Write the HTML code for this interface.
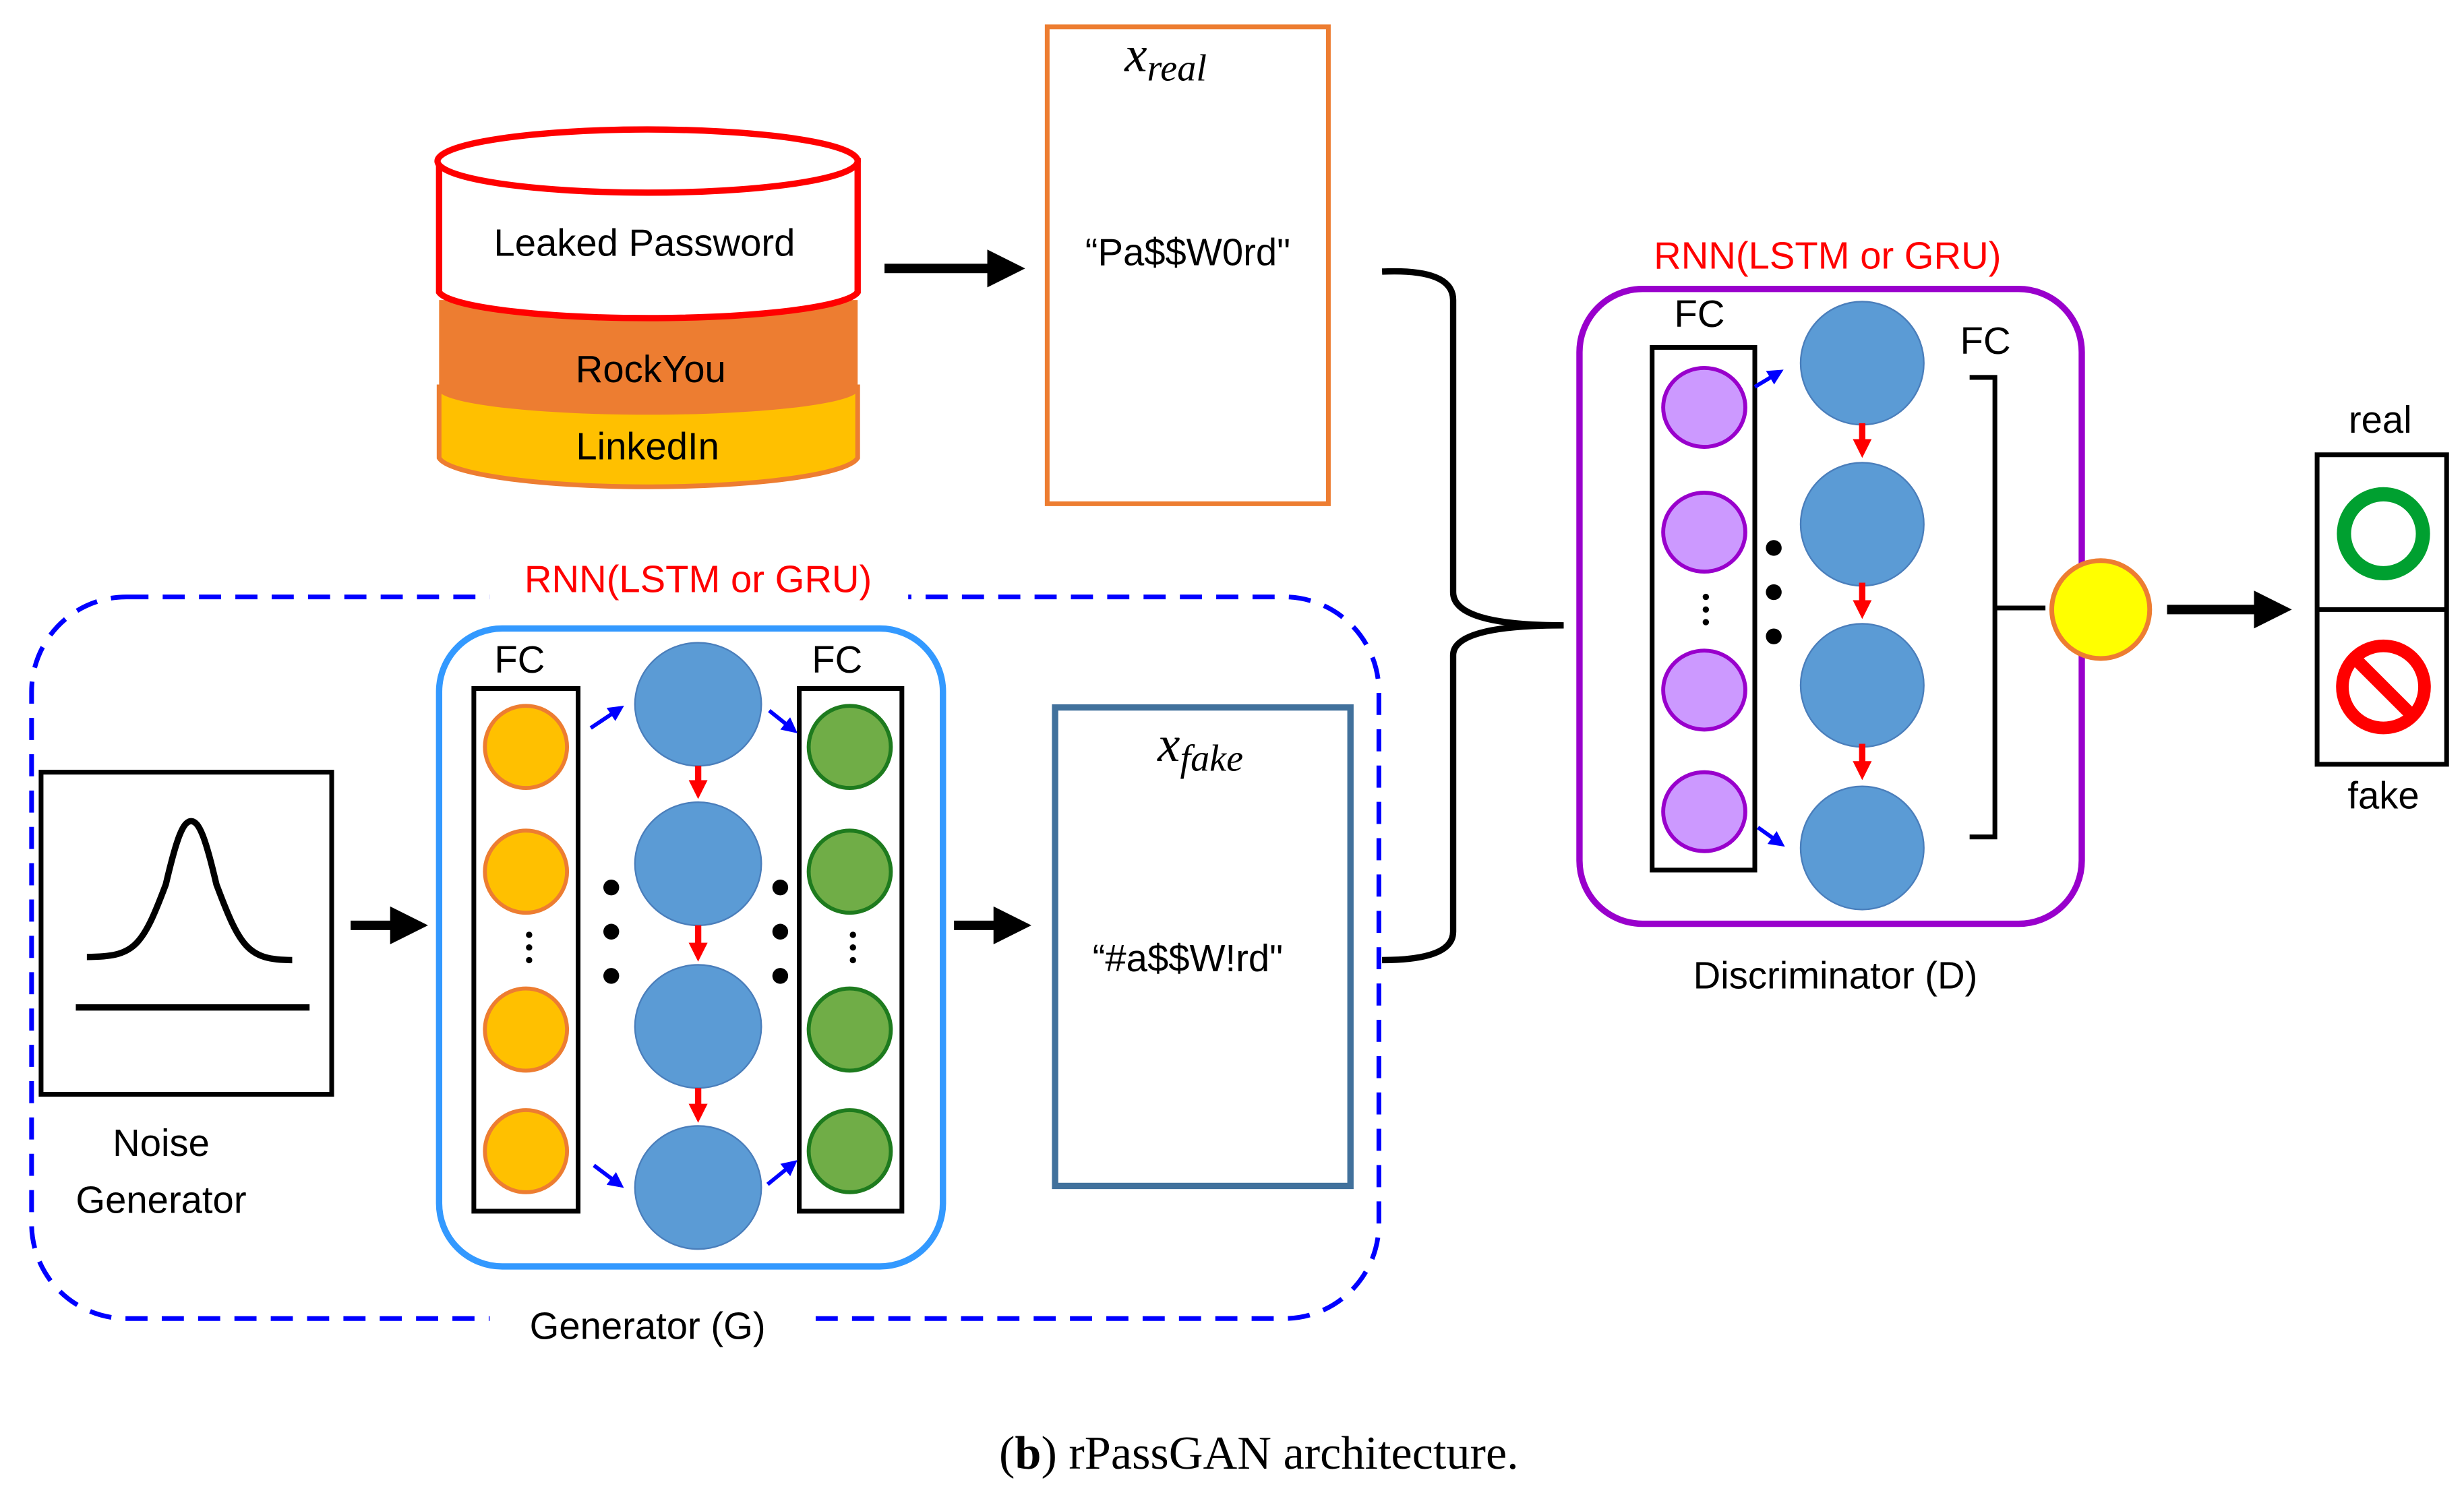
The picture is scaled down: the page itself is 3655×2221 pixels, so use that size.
<!DOCTYPE html>
<html><head><meta charset="utf-8"><style>
html,body{margin:0;padding:0;background:#fff;}
svg{display:block;}
text{font-family:"Liberation Sans",sans-serif;}
</style></head><body>
<svg width="3655" height="2221" viewBox="0 0 1560 948" preserveAspectRatio="none" xmlns="http://www.w3.org/2000/svg">
<defs>
<marker id="ab" markerWidth="4" markerHeight="4" refX="2.5" refY="2" orient="auto" markerUnits="strokeWidth"><path d="M0,0 L4,2 L0,4 z" fill="#000"/></marker>
<marker id="ar" markerWidth="3" markerHeight="3" refX="2" refY="1.5" orient="auto" markerUnits="strokeWidth"><path d="M0,0 L3,1.5 L0,3 z" fill="#f00"/></marker>
<marker id="abl" markerWidth="4" markerHeight="4" refX="2.5" refY="2" orient="auto" markerUnits="strokeWidth"><path d="M0,0 L4,2 L0,4 z" fill="#00f"/></marker>
</defs>
<path d="M278,245 L278,290 A133,20 0 0 0 543,290 L543,245 Z" fill="#FFC000" stroke="#ED7D31" stroke-width="3"/>
<path d="M278,190 L278,248 A133,16 0 0 0 543,248 L543,190 Z" fill="#ED7D31"/>
<path d="M278,102 L278,185 A133,18 0 0 0 543,185 L543,102 Z" fill="#fff" stroke="#f00" stroke-width="4"/>
<ellipse cx="410" cy="102" rx="133" ry="20" fill="#fff" stroke="#f00" stroke-width="4"/>
<text x="408" y="162" font-size="24" text-anchor="middle">Leaked Password</text>
<text x="412" y="242" font-size="24" text-anchor="middle">RockYou</text>
<text x="410" y="291" font-size="24" text-anchor="middle">LinkedIn</text>
<line x1="560" y1="170" x2="640" y2="170" stroke="#000" stroke-width="6" marker-end="url(#ab)"/>
<rect x="663" y="17" width="178" height="302" fill="none" stroke="#ED7D31" stroke-width="3"/>
<text x="738" y="45" font-size="32" font-style="italic" text-anchor="middle" style="font-family:'Liberation Serif',serif">x<tspan font-size="24" dy="6">real</tspan></text>
<text x="752" y="168" font-size="24" text-anchor="middle">“Pa$$W0rd"</text>
<rect x="20" y="378" width="853" height="457" rx="60" fill="none" stroke="#00f" stroke-width="3" stroke-dasharray="14 9"/>
<rect x="310" y="355" width="265" height="40" fill="#fff"/>
<text x="442" y="375" font-size="24" fill="#f00" text-anchor="middle">RNN(LSTM or GRU)</text>
<rect x="310" y="825" width="200" height="30" fill="#fff"/>
<text x="410" y="848" font-size="24" text-anchor="middle">Generator (G)</text>
<rect x="26" y="489" width="184" height="204" fill="#fff" stroke="#000" stroke-width="3"/>
<path d="M55,606 C85,606 90,600 105,560 C112,530 116,520 121,520 C126,520 130,530 137,560 C152,600 157,608 185,608" fill="none" stroke="#000" stroke-width="4"/>
<line x1="48" y1="638" x2="196" y2="638" stroke="#000" stroke-width="4"/>
<text x="102" y="732" font-size="24" text-anchor="middle">Noise</text>
<text x="102" y="768" font-size="24" text-anchor="middle">Generator</text>
<line x1="222" y1="586" x2="262" y2="586" stroke="#000" stroke-width="6" marker-end="url(#ab)"/>
<rect x="278" y="398" width="319" height="404" rx="40" fill="#fff" stroke="#3399FF" stroke-width="4"/>
<text x="329" y="426" font-size="24" text-anchor="middle">FC</text>
<text x="530" y="426" font-size="24" text-anchor="middle">FC</text>
<rect x="300" y="436" width="66" height="331" fill="none" stroke="#000" stroke-width="3"/>
<rect x="506" y="436" width="65" height="331" fill="none" stroke="#000" stroke-width="3"/>
<g fill="#FFC000" stroke="#ED7D31" stroke-width="2.5">
<circle cx="333" cy="473" r="26"/><circle cx="333" cy="552" r="26"/><circle cx="333" cy="652" r="26"/><circle cx="333" cy="729" r="26"/></g>
<g fill="#70AD47" stroke="#1E7B1E" stroke-width="2.5">
<circle cx="538" cy="473" r="26"/><circle cx="538" cy="552" r="26"/><circle cx="538" cy="652" r="26"/><circle cx="538" cy="729" r="26"/></g>
<g fill="#000"><circle cx="335" cy="592" r="2"/><circle cx="335" cy="600" r="2"/><circle cx="335" cy="608" r="2"/>
<circle cx="540" cy="592" r="2"/><circle cx="540" cy="600" r="2"/><circle cx="540" cy="608" r="2"/>
<circle cx="387" cy="562" r="5"/><circle cx="387" cy="590" r="5"/><circle cx="387" cy="618" r="5"/>
<circle cx="494" cy="562" r="5"/><circle cx="494" cy="590" r="5"/><circle cx="494" cy="618" r="5"/></g>
<g fill="#5B9BD5" stroke="#4A7EBB" stroke-width="1">
<ellipse cx="442" cy="446" rx="40" ry="39"/><ellipse cx="442" cy="547" rx="40" ry="39"/><ellipse cx="442" cy="650" rx="40" ry="39"/><ellipse cx="442" cy="752" rx="40" ry="39"/></g>
<g stroke="#f00" stroke-width="4" marker-end="url(#ar)">
<line x1="442" y1="485" x2="442" y2="502"/><line x1="442" y1="586" x2="442" y2="605"/><line x1="442" y1="689" x2="442" y2="707"/></g>
<g stroke="#00f" stroke-width="2.5" marker-end="url(#abl)">
<line x1="374" y1="461" x2="392" y2="449"/><line x1="487" y1="450" x2="502" y2="462"/><line x1="376" y1="738" x2="392" y2="750"/><line x1="486" y1="750" x2="502" y2="737"/></g>
<line x1="604" y1="586" x2="644" y2="586" stroke="#000" stroke-width="6" marker-end="url(#ab)"/>
<rect x="668" y="448" width="187" height="303" fill="#fff" stroke="#41719C" stroke-width="4"/>
<text x="760" y="482" font-size="32" font-style="italic" text-anchor="middle" style="font-family:'Liberation Serif',serif">x<tspan font-size="24" dy="6">fake</tspan></text>
<text x="752" y="615" font-size="24" text-anchor="middle">“#a$$W!rd"</text>
<path d="M875,172 Q920,170 920,190 L920,375 Q920,396 990,396 Q920,396 920,415 L920,590 Q920,608 875,608" fill="none" stroke="#000" stroke-width="4"/>
<text x="1157" y="170" font-size="24" fill="#f00" text-anchor="middle">RNN(LSTM or GRU)</text>
<rect x="1000" y="183" width="318" height="402" rx="40" fill="#fff" stroke="#9900CC" stroke-width="4"/>
<text x="1076" y="207" font-size="24" text-anchor="middle">FC</text>
<text x="1257" y="224" font-size="24" text-anchor="middle">FC</text>
<rect x="1046" y="220" width="65" height="331" fill="none" stroke="#000" stroke-width="3"/>
<g fill="#CC99FF" stroke="#9900CC" stroke-width="2.5">
<ellipse cx="1079" cy="258" rx="26" ry="25"/><ellipse cx="1079" cy="337" rx="26" ry="25"/><ellipse cx="1079" cy="437" rx="26" ry="25"/><ellipse cx="1079" cy="514" rx="26" ry="25"/></g>
<g fill="#000"><circle cx="1080" cy="378" r="2"/><circle cx="1080" cy="386" r="2"/><circle cx="1080" cy="394" r="2"/>
<circle cx="1123" cy="347" r="5"/><circle cx="1123" cy="375" r="5"/><circle cx="1123" cy="403" r="5"/></g>
<g fill="#5B9BD5" stroke="#4A7EBB" stroke-width="1">
<ellipse cx="1179" cy="230" rx="39" ry="39"/><ellipse cx="1179" cy="332" rx="39" ry="39"/><ellipse cx="1179" cy="434" rx="39" ry="39"/><ellipse cx="1179" cy="537" rx="39" ry="39"/></g>
<g stroke="#f00" stroke-width="4" marker-end="url(#ar)">
<line x1="1179" y1="268" x2="1179" y2="286"/><line x1="1179" y1="369" x2="1179" y2="388"/><line x1="1179" y1="471" x2="1179" y2="490"/></g>
<g stroke="#00f" stroke-width="2.5" marker-end="url(#abl)">
<line x1="1111" y1="245" x2="1126" y2="236"/><line x1="1113" y1="524" x2="1127" y2="534"/></g>
<path d="M1247,239 L1263,239 L1263,530 L1247,530 M1263,385 L1295,385" fill="none" stroke="#000" stroke-width="3"/>
<text x="1162" y="626" font-size="24" text-anchor="middle">Discriminator (D)</text>
<circle cx="1330" cy="386" r="31" fill="#FFFF00" stroke="#ED7D31" stroke-width="3"/>
<line x1="1372" y1="386" x2="1442" y2="386" stroke="#000" stroke-width="6" marker-end="url(#ab)"/>
<rect x="1467" y="288" width="82" height="196" fill="#fff" stroke="#000" stroke-width="3"/>
<line x1="1467" y1="386" x2="1549" y2="386" stroke="#000" stroke-width="3"/>
<circle cx="1509" cy="338" r="25" fill="none" stroke="#00A030" stroke-width="9"/>
<circle cx="1509" cy="435" r="26" fill="none" stroke="#f00" stroke-width="8"/>
<line x1="1491" y1="417" x2="1527" y2="453" stroke="#f00" stroke-width="8"/>
<text x="1507" y="274" font-size="24" text-anchor="middle">real</text>
<text x="1509" y="512" font-size="24" text-anchor="middle">fake</text>
<text x="797" y="930" font-size="30" text-anchor="middle" style="font-family:'Liberation Serif',serif">(<tspan font-weight="bold">b</tspan>) rPassGAN architecture.</text>
</svg>
</body></html>
